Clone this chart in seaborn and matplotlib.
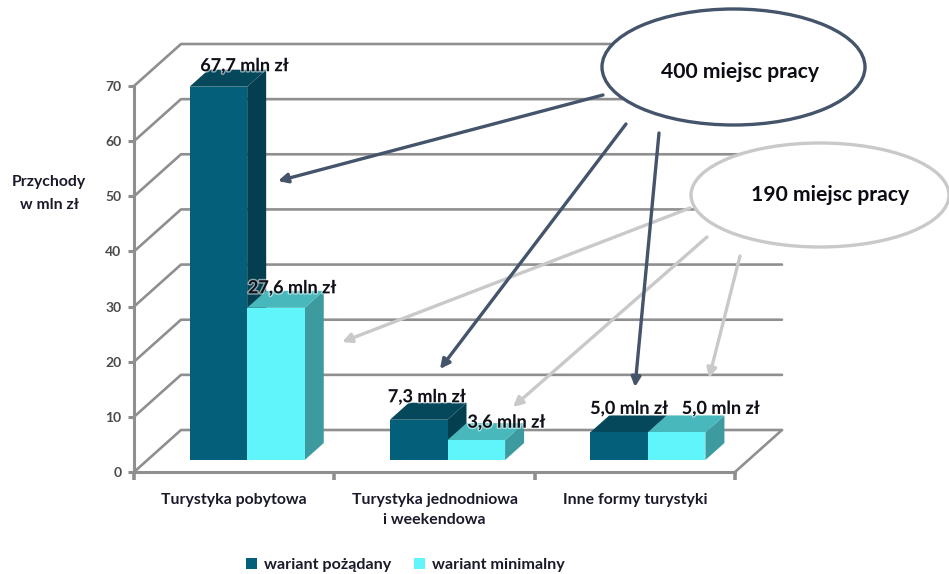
import pandas as pd
import matplotlib
matplotlib.use('Agg')
import matplotlib.pyplot as plt
import matplotlib.patheffects as pe
import seaborn as sns
from matplotlib.patches import Ellipse, Polygon
from matplotlib.transforms import IdentityTransform, offset_copy

# Dane
kategorie = ['Turystyka pobytowa', 'Turystyka jednodniowa\ni weekendowa', 'Inne formy turystyki']
pozadany = [67.7, 7.3, 5.0]
minimalny = [27.6, 3.6, 5.0]
warianty = ['wariant pożądany', 'wariant minimalny']
etykieta_y = 'Przychody\nw mln zł'
opis_400 = '400 miejsc pracy'
opis_190 = '190 miejsc pracy'

# Przesuniecia podpisow wzgledem gornej krawedzi slupka (piksele)
podpis_dx = [[26, 8, 10], [16, 30, 44]]
podpis_dy = [[21, 23, 24], [20, 18, 24]]

GRAY = '#8f8f8f'
DARK = '#44546a'
LIGHT = '#c9c9c9'
TEXT = '#1a1a2a'
kolory = ['#04607a', '#5ff5fb']
boki = ['#033f4f', '#3d9a9f']
gory = ['#05485c', '#48b8bc']

sns.set_style('white')
plt.rcParams['font.family'] = ['Lato', 'DejaVu Sans']
plt.rcParams['font.weight'] = 'bold'

W, H = 949, 574
fig = plt.figure(figsize=(W / 100, H / 100), dpi=100)
ax = fig.add_axes([134 / W, (H - 472) / H, 601 / W, 386 / H])
ax.patch.set_alpha(0)

df = pd.DataFrame({
    'kategoria': kategorie * 2,
    'wariant': [warianty[0]] * 3 + [warianty[1]] * 3,
    'wartosc': pozadany + minimalny,
})
sns.barplot(data=df, x='kategoria', y='wartosc', hue='wariant', palette=kolory,
            hue_order=warianty, width=0.575, gap=0, saturation=1, linewidth=0, ax=ax, zorder=3)
ax.set_xlim(-0.5, 2.5)
ax.set_ylim(0, 70)
ax.set_xlabel('')
ax.set_ylabel('')

# Siatka w perspektywie
BACK_X, BACK_Y = 47, 42
yticks = list(range(0, 71, 10))
for v in yticks:
    x0, y0 = ax.transData.transform((-0.5, v))
    x1, _ = ax.transData.transform((2.5, v))
    ax.plot([x0, x0 + BACK_X, x1 + BACK_X], [y0, y0 + BACK_Y, y0 + BACK_Y],
            color=GRAY, lw=1.9, transform=IdentityTransform(), clip_on=False, zorder=1)
x1, y1 = ax.transData.transform((2.5, 0))
ax.plot([x1, x1 + BACK_X], [y1, y1 + BACK_Y], color=GRAY, lw=1.9,
        transform=IdentityTransform(), clip_on=False, zorder=1)

# Slupki 3D: przesuniecie frontu i dorysowanie boku oraz gory
OFF_X, OFF_Y = 13, 12
DEPTH_X, DEPTH_Y = 19, 17
halo = [pe.withStroke(linewidth=2, foreground='white', alpha=0.55)]
przesuniecie = offset_copy(ax.transData, fig=fig, x=OFF_X, y=OFF_Y, units='dots')
for i, cont in enumerate(ax.containers):
    for j, bar in enumerate(cont):
        bar.set_transform(przesuniecie)
        bar.set_clip_on(False)
        xa, ya = przesuniecie.transform((bar.get_x(), 0))
        xb, yb = przesuniecie.transform((bar.get_x() + bar.get_width(), bar.get_height()))
        bok = [(xb, ya), (xb + DEPTH_X, ya + DEPTH_Y), (xb + DEPTH_X, yb + DEPTH_Y), (xb, yb)]
        gora = [(xa, yb), (xb, yb), (xb + DEPTH_X, yb + DEPTH_Y), (xa + DEPTH_X, yb + DEPTH_Y)]
        ax.add_patch(Polygon(bok, fc=boki[i], ec='none', transform=IdentityTransform(),
                             clip_on=False, zorder=2 + i * 0.5))
        ax.add_patch(Polygon(gora, fc=gory[i], ec='none', transform=IdentityTransform(),
                             clip_on=False, zorder=2 + i * 0.5))
        wartosc = bar.get_height()
        ax.text((xa + xb) / 2 + podpis_dx[i][j], yb + podpis_dy[i][j],
                f'{wartosc:.1f}'.replace('.', ',') + ' mln zł',
                transform=IdentityTransform(), ha='center', va='center',
                fontsize=13, color='#101018', zorder=6, path_effects=halo)

# Osie
for s in ['top', 'right']:
    ax.spines[s].set_visible(False)
for s in ['left', 'bottom']:
    ax.spines[s].set_color(GRAY)
    ax.spines[s].set_linewidth(2.2)
    ax.spines[s].set_zorder(1.5)
ax.set_yticks(yticks)
ax.tick_params(axis='y', length=4, width=2.2, color=GRAY, left=True, pad=5,
               labelsize=10, labelcolor='#4a4a4a')
ax.set_xticks([0, 1, 2])
ax.set_xticklabels(kategorie, linespacing=1.55, va='top')
ax.tick_params(axis='x', length=0, bottom=False, pad=15, labelsize=11.4, labelcolor=TEXT)
ax.set_xticks([-0.5, 0.5, 1.5, 2.5], minor=True)
ax.tick_params(axis='x', which='minor', length=6, width=2.6, color=GRAY, bottom=True)

fig.text(49 / W, 1 - 193.5 / H, etykieta_y, ha='center', va='center', fontsize=11.3,
         color=TEXT, linespacing=1.8)

ax.legend(loc='center', bbox_to_anchor=(405 / W, 1 - 565 / H), bbox_transform=fig.transFigure,
          ncol=2, frameon=False, fontsize=11.6, handlelength=0.72, handleheight=0.72,
          handletextpad=0.4, columnspacing=1.4, labelcolor=TEXT)

# Warstwa z dymkami i strzalkami (piksele obrazka)
nak = fig.add_axes([0, 0, 1, 1], facecolor='none')
nak.set_xlim(0, W)
nak.set_ylim(H, 0)
nak.axis('off')

nak.add_patch(Ellipse((733.5, 67), 263, 116, fc='white', ec=DARK, lw=2.4))
nak.add_patch(Ellipse((820, 195), 258, 104, fc='white', ec=LIGHT, lw=2.4))
nak.text(740, 72, opis_400, ha='center', va='center', fontsize=15.2, color='#0c0c14')
nak.text(830, 195, opis_190, ha='center', va='center', fontsize=15.2, color='#0c0c14')

strzalki = [
    ((690, 208), (342, 342), LIGHT),
    ((707, 237), (513, 407), LIGHT),
    ((740, 256), (709, 378), LIGHT),
    ((603, 95), (278, 181), DARK),
    ((626, 124), (440, 369), DARK),
    ((659, 133), (635, 387), DARK),
]
for start, koniec, kolor in strzalki:
    nak.annotate('', xy=koniec, xytext=start,
                 arrowprops=dict(arrowstyle='-|>', color=kolor, lw=2.4, mutation_scale=14,
                                 shrinkA=0, shrinkB=0))

fig.savefig('out.png', dpi=100)
